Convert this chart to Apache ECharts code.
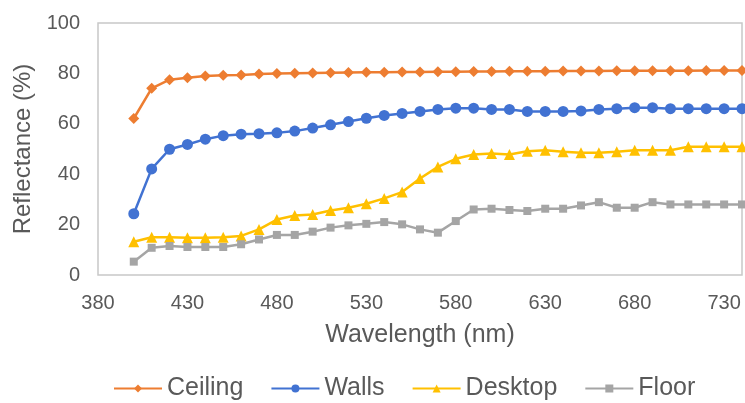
<!DOCTYPE html>
<html>
<head>
<meta charset="utf-8">
<script src="https://cdn.jsdelivr.net/npm/echarts@6/dist/echarts.min.js"></script>
<style>html,body{margin:0;padding:0;background:#fff;}#c{width:745px;height:403px;}</style>
</head>
<body>
<div id="c"></div>
<script>
const wavelengths = [400,410,420,430,440,450,460,470,480,490,500,510,520,530,540,550,560,570,580,590,600,610,620,630,640,650,660,670,680,690,700,710,720,730,740];
const ceiling = [62.1,74.1,77.5,78.3,79.0,79.3,79.4,79.8,80.0,80.1,80.2,80.3,80.4,80.5,80.5,80.6,80.6,80.7,80.7,80.8,80.8,80.9,80.9,80.9,81.0,81.0,81.0,81.1,81.1,81.1,81.1,81.1,81.2,81.2,81.2];
const walls = [24.3,42.1,49.9,51.8,53.9,55.3,55.9,56.1,56.4,57.1,58.3,59.6,60.9,62.2,63.3,64.1,64.9,65.7,66.2,66.2,65.7,65.7,64.9,64.9,64.9,65.1,65.7,66.0,66.4,66.4,66.0,66.0,66.0,66.0,66.0];
const desktop = [13.2,15.0,15.0,14.8,14.8,15.0,15.5,18.1,22.0,23.6,24.0,25.6,26.7,28.3,30.4,32.9,38.3,42.9,46.1,47.8,48.2,47.8,49.1,49.5,48.9,48.5,48.5,48.9,49.5,49.5,49.5,50.9,50.9,50.9,50.9];
const floor = [5.3,10.8,11.5,11.1,11.1,11.1,12.2,14.1,15.9,15.9,17.2,18.8,19.7,20.3,21.0,20.1,18.1,16.8,21.4,26.0,26.3,25.8,25.4,26.3,26.3,27.6,28.9,26.7,26.7,28.9,28.0,28.0,28.0,28.0,28.0];
const seriesNames = ['Ceiling','Walls','Desktop','Floor'];
const xTicks = {min: 380, max: 740, step: 50};
const yTicks = {min: 0, max: 100, step: 20};

const pair = arr => arr.map((v, i) => [wavelengths[i], v]);
const txt = '#595959';
const font = 'Liberation Sans, Arial, sans-serif';

const styles = [
  {color: '#ED7D31', symbol: 'diamond', size: 11},
  {color: '#4172D2', symbol: 'circle', size: 11},
  {color: '#FFC000', symbol: 'triangle', size: 11},
  {color: '#A5A5A5', symbol: 'rect', size: 8}
];
const datasets = [ceiling, walls, desktop, floor];

const chart = echarts.init(document.getElementById('c'), null, {renderer: 'canvas'});
chart.setOption({
  animation: false,
  backgroundColor: '#fff',
  textStyle: {fontFamily: font},
  grid: {left: 98, right: 3, top: 23, bottom: 128, show: true, borderColor: '#c8c8c8', borderWidth: 1.5, containLabel: false},
  legend: {
    data: seriesNames,
    left: 113, top: 376, padding: 0,
    itemWidth: 48, itemHeight: 10, itemGap: 27,
    textStyle: {color: txt, fontSize: 25, fontFamily: font}
  },
  xAxis: {
    type: 'value', min: xTicks.min, max: xTicks.max, interval: xTicks.step,
    name: 'Wavelength (nm)', nameLocation: 'middle', nameGap: 48,
    nameTextStyle: {color: txt, fontSize: 25, fontFamily: font},
    axisLine: {show: false}, axisTick: {show: false}, splitLine: {show: false},
    axisLabel: {color: txt, fontSize: 20, margin: 18, showMaxLabel: false, fontFamily: font}
  },
  yAxis: {
    type: 'value', min: yTicks.min, max: yTicks.max, interval: yTicks.step,
    name: 'Reflectance (%)', nameLocation: 'middle', nameGap: 61,
    nameTextStyle: {color: txt, fontSize: 24, fontFamily: font},
    axisLine: {show: false}, axisTick: {show: false}, splitLine: {show: false},
    axisLabel: {color: txt, fontSize: 20, margin: 18, fontFamily: font}
  },
  series: datasets.map((d, i) => ({
    name: seriesNames[i], type: 'line', data: pair(d),
    symbol: styles[i].symbol, symbolSize: styles[i].size, showAllSymbol: true,
    clip: false,
    itemStyle: {color: styles[i].color},
    lineStyle: {color: styles[i].color, width: 2.5}
  }))
});
</script>
</body>
</html>
